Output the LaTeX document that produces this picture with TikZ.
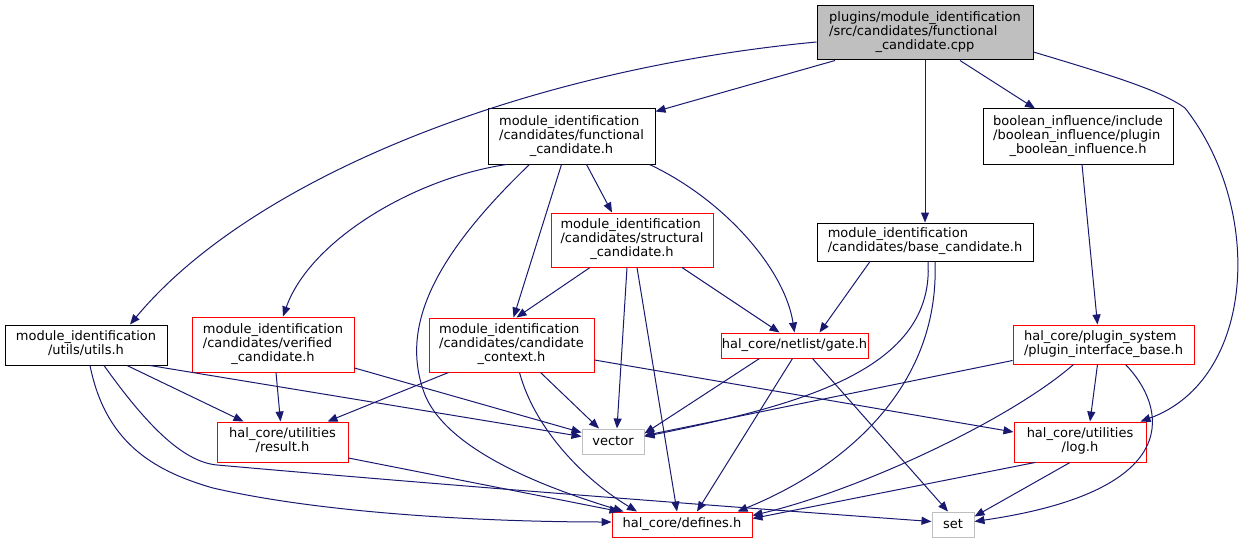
\documentclass[tikz,border=0pt]{standalone}
\usepackage{fontspec}
\setmainfont{DejaVu Sans}
\usepackage{tikz}
\usetikzlibrary{arrows.meta}
\definecolor{edgeblue}{HTML}{191970}
\definecolor{boxgrey}{HTML}{BFBFBF}
\newcommand\doxlines[2]{\begin{tabular}{@{}l@{}}#1\\\multicolumn{1}{@{}c@{}}{#2}\end{tabular}}
\tikzset{
    incbox/.style={shape=rectangle, draw=black, line width=1pt, inner sep=0pt, font=\fontsize{13}{14}\selectfont},
    redbox/.style={incbox, draw=red},
    greybox/.style={incbox, draw=boxgrey},
    mainbox/.style={incbox, fill=boxgrey},
    incarrow/.style={-{Triangle[length=10pt,width=8pt]}, draw=edgeblue, line width=1pt}
}

\begin{document}
\begin{tikzpicture}[x=1pt,y=-1pt]
    \useasboundingbox (0,0) rectangle (1254,543);

    \node[mainbox, minimum width=216, minimum height=54] (1) at (925,33) {\doxlines{plugins/module\_identification\\/src/candidates/functional}{\_candidate.cpp}};
    \node[incbox, minimum width=167, minimum height=55] (2) at (571.5,136.5) {\doxlines{module\_identification\\/candidates/functional}{\_candidate.h}};
    \node[incbox, minimum width=190, minimum height=55] (3) at (1078,136.5) {\doxlines{boolean\_influence/include\\/boolean\_influence/plugin}{\_boolean\_influence.h}};
    \node[incbox, minimum width=216, minimum height=38] (4) at (925,242) {\doxlines{module\_identification}{/candidates/base\_candidate.h}};
    \node[redbox, minimum width=162, minimum height=54] (5) at (632,240) {\doxlines{module\_identification\\/candidates/structural}{\_candidate.h}};
    \node[incbox, minimum width=162, minimum height=40] (6) at (86,345) {\doxlines{module\_identification}{/utils/utils.h}};
    \node[redbox, minimum width=162, minimum height=55] (7) at (273,344.5) {\doxlines{module\_identification\\/candidates/verified}{\_candidate.h}};
    \node[redbox, minimum width=165, minimum height=54] (8) at (511.5,345) {\doxlines{module\_identification\\/candidates/candidate}{\_context.h}};
    \node[redbox, minimum width=147, minimum height=25] (9) at (794.5,345.5) {hal\_core/netlist/gate.h};
    \node[redbox, minimum width=181, minimum height=39] (10) at (1103.5,344.5) {\doxlines{hal\_core/plugin\_system}{/plugin\_interface\_base.h}};
    \node[redbox, minimum width=131, minimum height=40] (11) at (282.5,442) {\doxlines{hal\_core/utilities}{/result.h}};
    \node[greybox, minimum width=62, minimum height=25] (12) at (613,441.5) {vector};
    \node[redbox, minimum width=132, minimum height=40] (13) at (1080,442) {\doxlines{hal\_core/utilities}{/log.h}};
    \node[redbox, minimum width=140, minimum height=25] (14) at (682,524.5) {hal\_core/defines.h};
    \node[greybox, minimum width=42, minimum height=25] (15) at (953,524.5) {set};

    \draw [incarrow]([yshift=-9]1.west) .. controls (520,70) and (250,180) .. ([xshift=44]6.north);
    \draw [incarrow]([xshift=-90]1.south) -- ([yshift=25]2.east);
    \draw [incarrow](1.south) -- (4.north);
    \draw [incarrow]([xshift=35]1.south) -- ([xshift=-43]3.north);
    \draw [incarrow]([yshift=-19]1.east) .. controls (1110,75) and (1160,90) .. (1185,108) .. controls (1265,210) and (1255,380) .. ([xshift=-6]13.north east);

    \draw [incarrow]([xshift=4]3.south) -- ([xshift=-6]10.north);

    \draw [incarrow]([xshift=-65]2.south) .. controls (415,178) and (310,240) .. ([xshift=10]7.north);
    \draw [incarrow]([xshift=-42]2.south) .. controls (430,260) and (400,330) .. (425,395) .. controls (450,455) and (560,492) .. ([xshift=12]14.north west);
    \draw [incarrow]([xshift=-10]2.south) -- ([xshift=2]8.north);
    \draw [incarrow]([xshift=15]2.south) -- ([xshift=-20]5.north);
    \draw [incarrow]([xshift=78]2.south) .. controls (725,200) and (785,270) .. (9.north);

    \draw [incarrow]([xshift=-42]5.south) -- ([xshift=5]8.north);
    \draw [incarrow]([xshift=-5]5.south) -- ([xshift=4]12.north);
    \draw [incarrow]([xshift=5]5.south) -- ([xshift=-5]14.north);
    \draw [incarrow]([xshift=50]5.south) -- ([xshift=-15]9.north);

    \draw [incarrow]([xshift=-55]4.south) -- ([xshift=25]9.north);
    \draw [incarrow]([xshift=3]4.south) .. controls (935,370) and (800,405) .. ([yshift=5]12.east);
    \draw [incarrow]([xshift=10]4.south) .. controls (940,390) and (840,470) .. ([xshift=-15]14.north east);

    \draw [incarrow]([xshift=64]6.south) -- ([yshift=5]12.west);
    \draw [incarrow]([xshift=41]6.south) -- ([xshift=-39]11.north);
    \draw [incarrow]([xshift=4]6.south) .. controls (105,440) and (150,470) .. (213,488) .. controls (330,515) and (500,522) .. ([yshift=2.5]14.west);
    \draw [incarrow]([xshift=18]6.south) .. controls (150,430) and (185,462) .. (217,465) .. controls (500,490) and (800,512) .. ([yshift=3]15.west);

    \draw [incarrow]([xshift=3]7.south) -- ([xshift=-2]11.north);
    \draw [incarrow]([yshift=-23.5]7.east) -- ([yshift=9]12.west);

    \draw [incarrow]([xshift=-63]8.south) -- ([xshift=45]11.north);
    \draw [incarrow]([xshift=8]8.south) .. controls (535,430) and (585,480) .. ([xshift=-45]14.north);
    \draw [incarrow]([xshift=29]8.south) -- ([xshift=-14]12.north);
    \draw [incarrow]([yshift=-15]8.east) -- ([yshift=10]13.west);

    \draw [incarrow]([xshift=-35]9.south) -- ([yshift=8]12.east);
    \draw [incarrow]([xshift=-2]9.south) -- ([xshift=15]14.north);
    \draw [incarrow]([xshift=18]9.south) -- ([xshift=-5]15.north);

    \draw [incarrow]([yshift=-16]10.west) -- ([yshift=6]12.east);
    \draw [incarrow]([xshift=-6]10.south) -- ([xshift=10]13.north);
    \draw [incarrow]([xshift=-30]10.south) .. controls (1010,420) and (860,490) .. ([yshift=9]14.east);
    \draw [incarrow]([xshift=22]10.south) .. controls (1165,405) and (1190,490) .. ([yshift=3]15.east);

    \draw [incarrow]([yshift=-16]11.east) -- ([xshift=8]14.north west);

    \draw [incarrow]([xshift=-45]13.south) -- ([yshift=6]14.east);
    \draw [incarrow]([xshift=-10]13.south) -- ([yshift=8]15.east);
\end{tikzpicture}
\end{document}
